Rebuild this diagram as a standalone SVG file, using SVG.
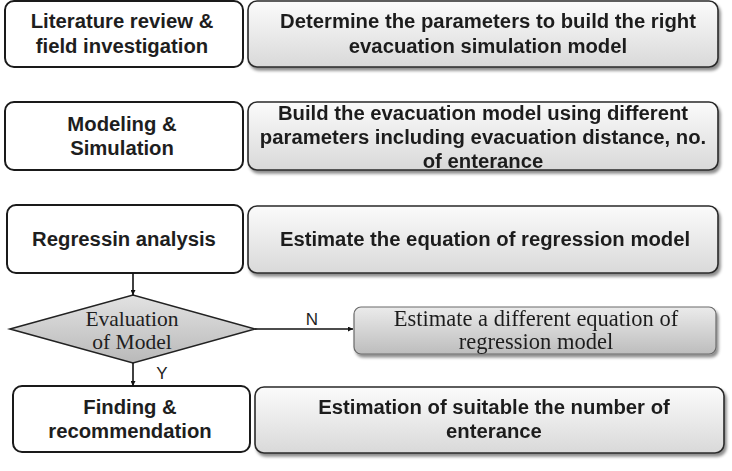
<svg xmlns="http://www.w3.org/2000/svg" width="732" height="471" viewBox="0 0 732 471">
<defs>
<linearGradient id="gBox" x1="0" y1="0" x2="0" y2="1">
<stop offset="0" stop-color="#fbfbfb"/>
<stop offset="1" stop-color="#d9d9d9"/>
</linearGradient>
<linearGradient id="gGray" x1="0" y1="0" x2="0" y2="1">
<stop offset="0" stop-color="#ebebeb"/>
<stop offset="1" stop-color="#bdbdbd"/>
</linearGradient>
<linearGradient id="gDia" x1="0" y1="0" x2="0" y2="1">
<stop offset="0" stop-color="#e2e2e2"/>
<stop offset="1" stop-color="#b9b9b9"/>
</linearGradient>
<filter id="sh" x="-5%" y="-10%" width="112%" height="130%">
<feDropShadow dx="2" dy="3" stdDeviation="1.6" flood-color="#000" flood-opacity="0.45"/>
</filter>
<marker id="arr" viewBox="0 0 10 10" refX="10" refY="5" markerWidth="5" markerHeight="5" orient="auto" markerUnits="userSpaceOnUse">
<path d="M0,0 L10,5 L0,10 z" fill="#111"/>
</marker>
<style>
.lb{fill:#fff;stroke:#1a1a1a;stroke-width:2}
.rb{fill:url(#gBox);stroke:#2a2a2a;stroke-width:1.6}
.gb{fill:url(#gGray);stroke:#6a6a6a;stroke-width:1.2}
.t{font-family:"Liberation Sans",Arial,sans-serif;font-weight:bold;font-size:20.3px;fill:#1e1e1e;text-anchor:middle}
.s{font-family:"Liberation Serif","Times New Roman",serif;font-size:21.5px;fill:#1e1e1e;text-anchor:middle}
.s2{font-family:"Liberation Serif","Times New Roman",serif;font-size:22.5px;fill:#1e1e1e;text-anchor:middle}
.lab{font-family:"Liberation Sans",Arial,sans-serif;font-size:17px;fill:#1e1e1e;text-anchor:middle}
.c{stroke:#111;stroke-width:1.6;fill:none}
</style>
</defs>

<g id="n1">
<rect class="lb" x="5" y="1" width="238" height="66" rx="9"/>
<text class="t" x="122" y="28">Literature review &amp;</text>
<text class="t" x="122" y="53">field investigation</text>
</g>
<g id="n1r" filter="url(#sh)">
<rect class="rb" x="248" y="1" width="470" height="66" rx="9"/>
<text class="t" x="488" y="28">Determine the parameters to build the right</text>
<text class="t" x="488" y="53">evacuation simulation model</text>
</g>

<g id="n2">
<rect class="lb" x="5" y="102" width="238" height="68" rx="9"/>
<text class="t" x="122" y="131">Modeling &amp;</text>
<text class="t" x="122" y="155">Simulation</text>
</g>
<g id="n2r" filter="url(#sh)">
<rect class="rb" x="248" y="102" width="470" height="68" rx="9"/>
<text class="t" x="483" y="120">Build the evacuation model using different</text>
<text class="t" x="483" y="144">parameters including evacuation distance, no.</text>
<text class="t" x="483" y="168">of enterance</text>
</g>

<g id="n3">
<rect class="lb" x="7" y="205" width="236" height="68" rx="9"/>
<text class="t" x="124" y="246">Regressin analysis</text>
</g>
<g id="n3r" filter="url(#sh)">
<rect class="rb" x="248" y="206" width="470" height="67" rx="9"/>
<text class="t" x="485" y="246">Estimate the equation of regression model</text>
</g>

<g id="n4">
<polygon points="10,329 133,295 255,329 133,363" fill="url(#gDia)" stroke="#222" stroke-width="1.6"/>
<text class="s" x="132" y="326">Evaluation</text>
<text class="s" x="132" y="349">of Model</text>
</g>
<g id="n4r" filter="url(#sh)">
<rect class="gb" x="354" y="307" width="362" height="47" rx="7"/>
<text class="s2" x="536" y="326">Estimate a different equation of</text>
<text class="s2" x="536" y="349">regression model</text>
</g>

<g id="n5">
<rect class="lb" x="13" y="386" width="237" height="66" rx="9"/>
<text class="t" x="130" y="414">Finding &amp;</text>
<text class="t" x="130" y="438">recommendation</text>
</g>
<g id="n5r" filter="url(#sh)">
<rect class="rb" x="255" y="387" width="469" height="66" rx="9"/>
<text class="t" x="494" y="414">Estimation of suitable the number of</text>
<text class="t" x="494" y="438">enterance</text>
</g>

<g id="connectors">
<line class="c" x1="133" y1="273" x2="133" y2="295" marker-end="url(#arr)"/>
<line class="c" x1="255" y1="329" x2="353" y2="329" marker-end="url(#arr)"/>
<line class="c" x1="133" y1="363" x2="133" y2="386" marker-end="url(#arr)"/>
<text class="lab" x="312" y="325">N</text>
<text class="lab" x="162" y="379">Y</text>
</g>
</svg>
